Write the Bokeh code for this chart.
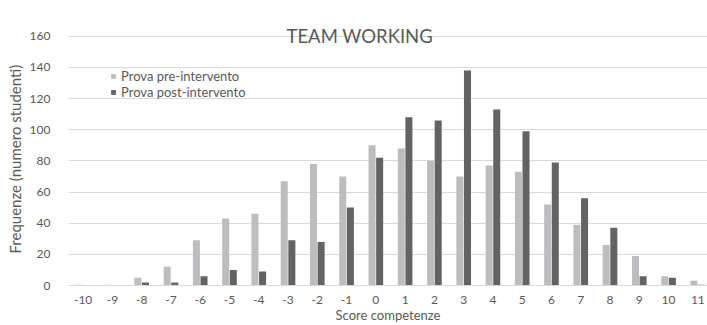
from bokeh.plotting import figure
from bokeh.models import ColumnDataSource, Range1d, FixedTicker, Legend, LegendItem, Label, Title
from bokeh.transform import dodge
from bokeh.embed import file_html
from bokeh.resources import INLINE

scores = list(range(-10, 12))
x_labels = ["-10", "-9", "-8", "-7", "-6", "-5", "-4", "-3", "-2", "-1", "0",
            "1", "2", "3", "4", "5", "6", "7", "8", "9", "10", "11"]
pre = [0.5, 0.5, 5, 12, 29, 43, 46, 67, 78, 70, 90, 88, 80, 70, 77, 73, 52, 39, 26, 19, 6, 3]
post = [0, 0, 2, 2, 6, 10, 9, 29, 28, 50, 82, 108, 106, 138, 113, 99, 79, 56, 37, 6, 5, 0.5]
y_ticks = [0, 20, 40, 60, 80, 100, 120, 140, 160]
series_names = ["Prova pre-intervento", "Prova post-intervento"]
title_text = "TEAM WORKING"
x_title = "Score competenze"
y_title = "Frequenze (numero studenti)"

FONT = "Lato"
TXT = "#595959"
GRID = "#d9d9d9"
C_PRE = "#bdbdbf"
C_POST = "#636363"

src = ColumnDataSource(dict(x=scores, pre=pre, post=post))

p = figure(width=707, height=325, output_backend="svg", toolbar_location=None,
           x_range=Range1d(-10.5, 11.33), y_range=Range1d(0, 165),
           min_border_left=68, min_border_right=0, min_border_top=28, min_border_bottom=40)
p.outline_line_color = None

r_pre = p.vbar(x=dodge("x", -0.13, range=p.x_range), top="pre", width=0.24, source=src,
               fill_color=C_PRE, line_color=None)
r_post = p.vbar(x=dodge("x", 0.13, range=p.x_range), top="post", width=0.24, source=src,
                fill_color=C_POST, line_color=None)

p.xgrid.visible = False
p.ygrid.grid_line_color = GRID
p.ygrid.ticker = FixedTicker(ticks=y_ticks)

p.xaxis.ticker = FixedTicker(ticks=scores)
p.xaxis.major_label_overrides = {s: lab for s, lab in zip(scores, x_labels)}
p.yaxis.ticker = FixedTicker(ticks=y_ticks)
p.yaxis.major_label_overrides = {t: str(t) for t in y_ticks}
for ax in (p.xaxis, p.yaxis):
    ax.major_tick_line_color = None
    ax.minor_tick_line_color = None
    ax.major_label_text_font = FONT
    ax.major_label_text_font_size = "12px"
    ax.major_label_text_color = TXT
p.yaxis.axis_line_color = None
p.xaxis.axis_line_color = GRID
p.yaxis.major_label_standoff = 12
p.xaxis.major_label_standoff = 4

# x-axis title
p.xaxis.axis_label = x_title
p.xaxis.axis_label_standoff = 0
p.xaxis.axis_label_text_font = FONT
p.xaxis.axis_label_text_font_size = "13px"
p.xaxis.axis_label_text_font_style = "normal"
p.xaxis.axis_label_text_color = TXT

# y-axis title, as a side title shifted slightly above the frame's centre
ytitle = Title(text=y_title, align="left", offset=32, standoff=6,
               text_font=FONT, text_font_size="15px", text_font_style="normal",
               text_color=TXT)
p.add_layout(ytitle, "left")

legend = Legend(items=[LegendItem(label=series_names[0], renderers=[r_pre]),
                       LegendItem(label=series_names[1], renderers=[r_post])],
                location=(42, 185), orientation="vertical",
                glyph_width=6, glyph_height=6, label_height=14, label_standoff=5,
                spacing=-2, padding=0, margin=0,
                label_text_font=FONT, label_text_font_size="13px", label_text_color=TXT,
                background_fill_alpha=0, border_line_color=None)
p.add_layout(legend)

title = Label(x=-0.55, y=160, text=title_text, text_align="center", text_baseline="middle",
              text_font=FONT, text_font_size="18.5px", text_color=TXT)
p.add_layout(title)

open("out.html", "w").write(file_html(p, INLINE))
